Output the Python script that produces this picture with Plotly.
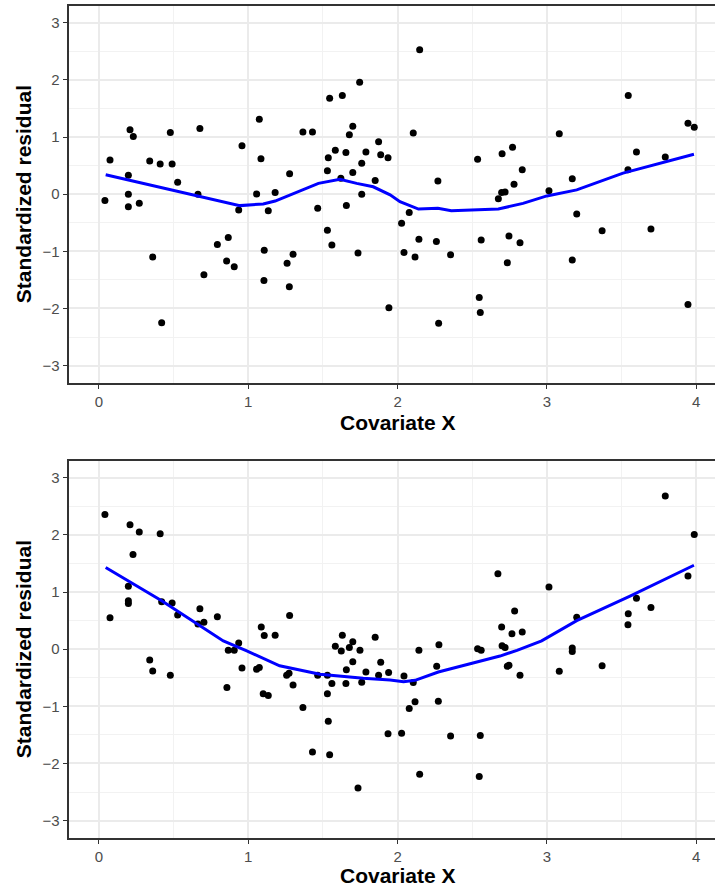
import plotly.graph_objects as go

# ---------------- data ----------------
top_x = [0.074, 0.208, 0.23, 0.197, 0.197, 0.04, 0.34, 0.41, 0.478, 0.49, 0.527, 0.676, 0.663,
         0.958, 1.074, 1.085, 1.056, 1.18, 1.277, 1.366, 1.43, 1.545, 1.63, 1.746, 1.70, 1.677,
         1.536, 1.583, 1.654, 1.53, 1.62, 1.70, 1.76, 1.788, 1.873, 1.887, 1.936, 1.85, 1.76,
         2.148, 2.105, 2.27, 2.536, 2.70, 2.77, 2.835, 2.78, 2.697, 2.72, 2.675, 3.083, 3.014,
         3.17, 3.545, 3.60, 3.543, 3.793, 3.945, 3.987, 0.197, 0.27, 0.36, 0.42, 0.936, 1.134,
         0.793, 0.866, 0.703, 0.855, 0.906, 1.107, 1.30, 1.26, 1.105, 1.275, 1.465, 1.657, 1.53,
         1.56, 1.735, 1.942, 2.027, 2.078, 2.143, 2.043, 2.117, 2.26, 2.355, 2.275, 2.56, 2.547,
         2.554, 2.746, 2.82, 2.735, 3.20, 3.17, 3.37, 3.697, 3.945]
top_y = [0.60, 1.13, 1.01, 0.33, 0.0, -0.11, 0.58, 0.53, 1.08, 0.53, 0.21, 1.15, 0.0,
         0.85, 1.31, 0.62, 0.005, 0.03, 0.36, 1.09, 1.09, 1.68, 1.73, 1.96, 1.19, 1.04,
         0.64, 0.77, 0.73, 0.41, 0.28, 0.38, 0.54, 0.74, 0.92, 0.69, 0.64, 0.24, 0.0,
         2.53, 1.07, 0.23, 0.61, 0.71, 0.82, 0.43, 0.175, 0.03, 0.04, -0.08, 1.06, 0.06,
         0.27, 1.73, 0.74, 0.43, 0.65, 1.24, 1.17, -0.22, -0.16, -1.10, -2.25, -0.275, -0.29,
         -0.88, -0.76, -1.41, -1.17, -1.27, -0.98, -1.05, -1.21, -1.51, -1.62, -0.245, -0.20, -0.63,
         -0.89, -1.03, -1.99, -0.51, -0.32, -0.79, -1.02, -1.10, -0.83, -1.06, -2.26, -0.80, -1.81,
         -2.07, -0.73, -0.85, -1.20, -0.345, -1.15, -0.64, -0.61, -1.93]

top_fit_x = [0.045, 0.665, 0.944, 1.10, 1.18, 1.47, 1.614, 1.726, 1.837, 1.95, 2.016, 2.14,
             2.27, 2.36, 2.675, 2.84, 3.0, 3.2, 3.51, 3.985]
top_fit_y = [0.34, -0.04, -0.2, -0.17, -0.12, 0.19, 0.26, 0.19, 0.13, -0.01, -0.13, -0.26,
             -0.245, -0.29, -0.26, -0.16, -0.03, 0.075, 0.37, 0.70]

bot_x = [0.04, 0.074, 0.197, 0.197, 0.197, 0.208, 0.228, 0.27, 0.34, 0.36, 0.41, 0.42, 0.478,
         0.49, 0.527, 0.663, 0.676, 0.703, 0.793, 0.857, 0.866, 0.906, 0.936, 0.958, 1.056,
         1.074, 1.087, 1.10, 1.107, 1.134, 1.18, 1.257, 1.273, 1.277, 1.30, 1.366, 1.43, 1.465,
         1.53, 1.53, 1.536, 1.545, 1.56, 1.583, 1.623, 1.63, 1.654, 1.657, 1.677, 1.70, 1.70,
         1.735, 1.748, 1.76, 1.788, 1.85, 1.873, 1.887, 1.936, 1.94, 2.027, 2.043, 2.078, 2.105,
         2.117, 2.143, 2.148, 2.262, 2.273, 2.277, 2.355, 2.536, 2.547, 2.554, 2.56, 2.672, 2.697,
         2.70, 2.72, 2.735, 2.746, 2.766, 2.784, 2.82, 2.835, 3.014, 3.083, 3.17, 3.17, 3.20,
         3.37, 3.543, 3.545, 3.60, 3.697, 3.793, 3.945, 3.987]
bot_y = [2.36, 0.55, 1.10, 0.85, 0.80, 2.18, 1.66, 2.05, -0.19, -0.38, 2.02, 0.83, -0.455,
         0.81, 0.60, 0.44, 0.71, 0.47, 0.57, -0.67, -0.02, -0.02, 0.11, -0.33, -0.35,
         -0.32, 0.39, -0.78, 0.24, -0.81, 0.245, -0.455, -0.42, 0.59, -0.625, -1.02, -1.80, -0.455,
         -0.455, -0.78, -1.26, -1.85, -0.60, 0.05, -0.03, 0.245, -0.60, -0.36, 0.03, 0.13, -0.22,
         -2.43, -0.02, -0.58, -0.40, 0.21, -0.455, -0.23, -1.48, -0.41, -1.47, -0.47, -1.04, -0.585,
         -0.92, -0.02, -2.19, -0.30, -0.91, 0.08, -1.52, 0.01, -2.23, -1.51, -0.02, 1.32, 0.39,
         0.06, 0.03, -0.30, -0.28, 0.27, 0.67, -0.455, 0.30, 1.09, -0.385, 0.02, -0.04, 0.56,
         -0.29, 0.43, 0.62, 0.89, 0.73, 2.68, 1.28, 2.01]

bot_fit_x = [0.045, 0.42, 0.833, 0.99, 1.21, 1.48, 1.77, 1.95, 2.04, 2.117, 2.273, 2.396,
             2.686, 2.80, 2.965, 3.2, 3.557, 3.985]
bot_fit_y = [1.43, 0.85, 0.145, -0.03, -0.29, -0.44, -0.51, -0.54, -0.57, -0.545, -0.40, -0.32,
             -0.12, -0.02, 0.145, 0.50, 0.93, 1.47]

x_ticks = [0, 1, 2, 3, 4]
y_ticks = [-3, -2, -1, 0, 1, 2, 3]
x_title = "Covariate X"
y_title = "Standardized residual"

# ---------------- figure ----------------
W, H = 715, 888
FONT = "Liberation Sans, Arial, sans-serif"

fig = go.Figure()

panels = [
    ("x", "y", top_x, top_y, top_fit_x, top_fit_y),
    ("x2", "y2", bot_x, bot_y, bot_fit_x, bot_fit_y),
]
for xa, ya, px, py, fx, fy in panels:
    fig.add_trace(go.Scatter(x=px, y=py, mode="markers", xaxis=xa, yaxis=ya,
                             marker=dict(color="black", size=7), showlegend=False,
                             hoverinfo="skip"))
    fig.add_trace(go.Scatter(x=fx, y=fy, mode="lines", xaxis=xa, yaxis=ya,
                             line=dict(color="#0000FF", width=3), showlegend=False,
                             hoverinfo="skip"))

left_px = 68.5
x_dom = [left_px / W, 1.0]
top_dom = [1 - 382.7 / H, 1 - 5.7 / H]
bot_dom = [1 - 837.7 / H, 1 - 460.7 / H]

def xaxis(anchor):
    return dict(domain=x_dom, anchor=anchor, range=[-0.204, 4.126],
                tickvals=x_ticks, ticks="outside", ticklen=4, tickwidth=1.3,
                tickcolor="#333333", showline=True, linecolor="#333333", linewidth=1.8,
                mirror=True, showgrid=True, gridcolor="#EBEBEB", gridwidth=1.8,
                zeroline=False,
                minor=dict(dtick=0.5, tick0=0, showgrid=True, gridcolor="#F2F2F2",
                           gridwidth=1, ticks=""),
                tickfont=dict(family=FONT, size=15, color="#4D4D4D"))

def yaxis(anchor, dom):
    return dict(domain=dom, anchor=anchor, range=[-3.3, 3.3],
                tickvals=y_ticks, ticks="outside", ticklen=4, tickwidth=1.3,
                tickcolor="#333333", showline=True, linecolor="#333333", linewidth=1.8,
                mirror=False, showgrid=True, gridcolor="#EBEBEB", gridwidth=1.8,
                zeroline=False,
                minor=dict(dtick=0.5, tick0=0, showgrid=True, gridcolor="#F2F2F2",
                           gridwidth=1, ticks=""),
                tickfont=dict(family=FONT, size=15, color="#4D4D4D"))

fig.update_layout(
    width=W, height=H,
    margin=dict(l=0, r=0, t=0, b=0),
    paper_bgcolor="white", plot_bgcolor="white",
    xaxis=xaxis("y"), yaxis=yaxis("x", top_dom),
    xaxis2=xaxis("y2"), yaxis2=yaxis("x2", bot_dom),
)

title_font = dict(family=FONT, size=21, color="black")
annotations = [
    dict(text="<b>%s</b>" % x_title, xref="x", x=2.0, yref="paper", y=1 - 423 / H,
         showarrow=False, font=title_font, xanchor="center", yanchor="middle"),
    dict(text="<b>%s</b>" % x_title, xref="x2", x=2.0, yref="paper", y=0,
         showarrow=False, font=title_font, xanchor="center", yanchor="bottom",
         borderpad=0),
]
for yr in ["y", "y2"]:
    annotations.append(dict(text="<b>%s</b>" % y_title, xref="paper", x=23 / W,
                            yref=yr, y=0, showarrow=False, font=title_font,
                            textangle=-90, xanchor="center", yanchor="middle"))
fig.update_layout(annotations=annotations)

fig.write_html("out.html")
